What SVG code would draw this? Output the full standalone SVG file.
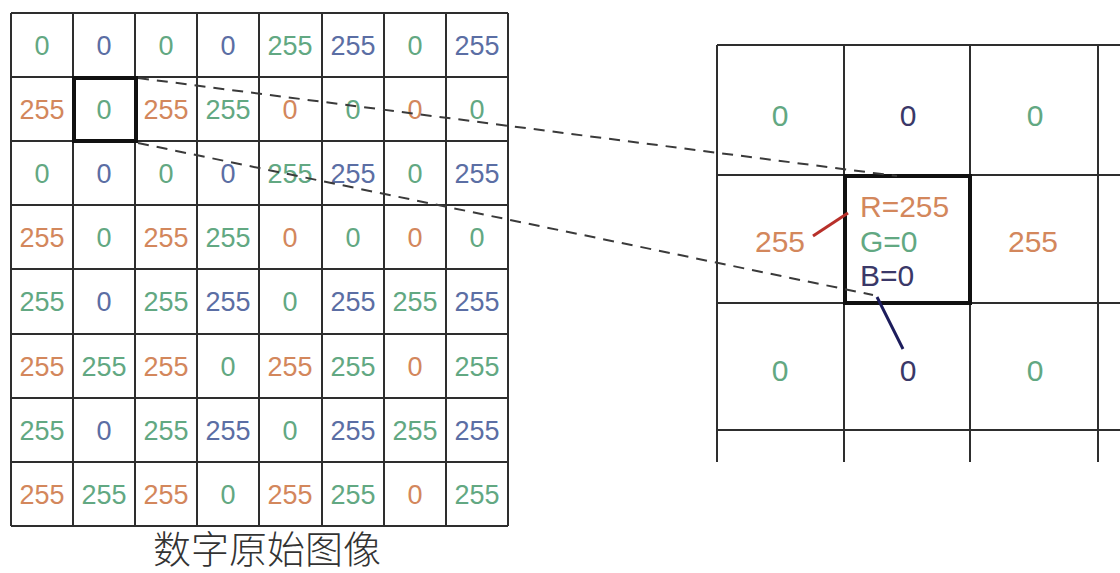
<svg xmlns="http://www.w3.org/2000/svg" width="1120" height="573" viewBox="0 0 1120 573">
<style>
text{font-family:"Liberation Sans",Arial,sans-serif;text-anchor:middle}
text.s{text-anchor:start}
.l{font-size:27px}
.r{font-size:30px}
.g{fill:#62a882}
.o{fill:#d3875c}
.b{fill:#5b6ea4}
.n{fill:#3a3868}
.gl{stroke:#2e2e2e;stroke-width:2;fill:none}
.hl{stroke:#111;stroke-width:4;fill:none}
.dash{stroke:#3a3a3a;stroke-width:2;stroke-dasharray:11 8;fill:none}
.cap{font-family:"Noto Sans CJK SC",sans-serif;font-size:38px;fill:#333;font-weight:300}
</style>
<rect width="1120" height="573" fill="#fff"/>
<g id="left-grid">
<path class="gl" d="M11 13V526M73 13V526M135 13V526M197 13V526M259 13V526M322 13V526M384 13V526M446 13V526M508 13V526M11 13H508M11 77H508M11 141H508M11 205H508M11 269H508M11 334H508M11 398H508M11 462H508M11 526H508"/>
<g class="l">
<text x="42" y="55" class="g">0</text><text x="104" y="55" class="b">0</text><text x="166" y="55" class="g">0</text><text x="228" y="55" class="b">0</text><text x="290" y="55" class="g">255</text><text x="353" y="55" class="b">255</text><text x="415" y="55" class="g">0</text><text x="477" y="55" class="b">255</text>
<text x="42" y="119" class="o">255</text><text x="104" y="119" class="g">0</text><text x="166" y="119" class="o">255</text><text x="228" y="119" class="g">255</text><text x="290" y="119" class="o">0</text><text x="353" y="119" class="g">0</text><text x="415" y="119" class="o">0</text><text x="477" y="119" class="g">0</text>
<text x="42" y="183" class="g">0</text><text x="104" y="183" class="b">0</text><text x="166" y="183" class="g">0</text><text x="228" y="183" class="b">0</text><text x="290" y="183" class="g">255</text><text x="353" y="183" class="b">255</text><text x="415" y="183" class="g">0</text><text x="477" y="183" class="b">255</text>
<text x="42" y="247" class="o">255</text><text x="104" y="247" class="g">0</text><text x="166" y="247" class="o">255</text><text x="228" y="247" class="g">255</text><text x="290" y="247" class="o">0</text><text x="353" y="247" class="g">0</text><text x="415" y="247" class="o">0</text><text x="477" y="247" class="g">0</text>
<text x="42" y="311" class="g">255</text><text x="104" y="311" class="b">0</text><text x="166" y="311" class="g">255</text><text x="228" y="311" class="b">255</text><text x="290" y="311" class="g">0</text><text x="353" y="311" class="b">255</text><text x="415" y="311" class="g">255</text><text x="477" y="311" class="b">255</text>
<text x="42" y="376" class="o">255</text><text x="104" y="376" class="g">255</text><text x="166" y="376" class="o">255</text><text x="228" y="376" class="g">0</text><text x="290" y="376" class="o">255</text><text x="353" y="376" class="g">255</text><text x="415" y="376" class="o">0</text><text x="477" y="376" class="g">255</text>
<text x="42" y="440" class="g">255</text><text x="104" y="440" class="b">0</text><text x="166" y="440" class="g">255</text><text x="228" y="440" class="b">255</text><text x="290" y="440" class="g">0</text><text x="353" y="440" class="b">255</text><text x="415" y="440" class="g">255</text><text x="477" y="440" class="b">255</text>
<text x="42" y="504" class="o">255</text><text x="104" y="504" class="g">255</text><text x="166" y="504" class="o">255</text><text x="228" y="504" class="g">0</text><text x="290" y="504" class="o">255</text><text x="353" y="504" class="g">255</text><text x="415" y="504" class="o">0</text><text x="477" y="504" class="g">255</text>
</g>
<rect class="hl" x="74" y="78" width="62" height="63"/>
</g>
<text class="cap" x="267" y="563">数字原始图像</text>
<g id="right-grid">
<path class="gl" d="M717 45V462M844 45V462M970 45V462M1098 45V462M717 45H1120M717 175H1120M717 303H1120M717 430H1120"/>
<rect class="hl" x="845" y="176" width="125" height="127" stroke-width="3"/>
<g class="r">
<text x="780" y="126" class="g">0</text><text x="908" y="126" class="n">0</text><text x="1035" y="126" class="g">0</text>
<text x="780" y="252" class="o">255</text><text x="1033" y="252" class="o">255</text>
<text x="780" y="381" class="g">0</text><text x="908" y="381" class="n">0</text><text x="1035" y="381" class="g">0</text>
<text x="860" y="217" class="o s">R=255</text>
<text x="860" y="252" class="g s">G=0</text>
<text x="860" y="286" class="n s">B=0</text>
</g>
</g>
<g id="connectors">
<line class="dash" x1="138" y1="78" x2="897" y2="176"/>
<line class="dash" x1="138" y1="143" x2="873" y2="295"/>
<line x1="813" y1="236" x2="848" y2="213" stroke="#b8302a" stroke-width="3"/>
<line x1="877" y1="297" x2="903" y2="349" stroke="#1c1c5c" stroke-width="3"/>
</g>
</svg>
